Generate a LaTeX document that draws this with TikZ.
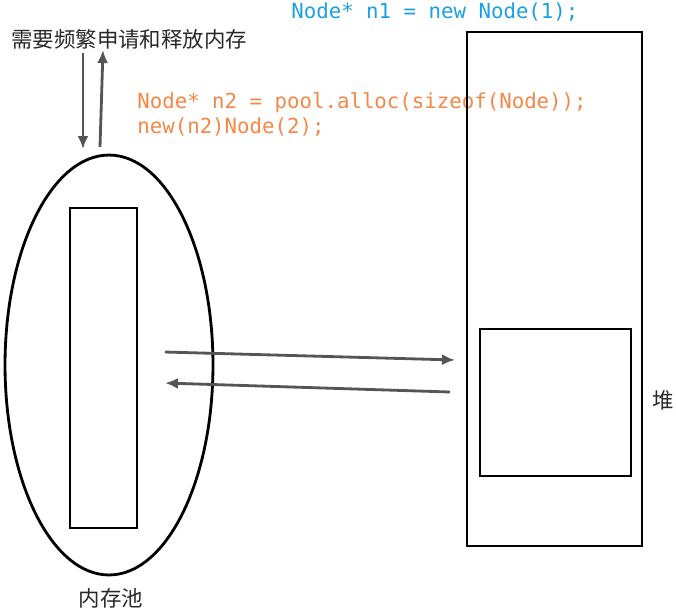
\documentclass[tikz,border=0pt]{standalone}
\usepackage{fontspec}
\setmonofont{DejaVu Sans Mono}
\newfontfamily\cjk{Noto Sans CJK SC}
\usetikzlibrary{shapes.geometric,arrows.meta}
\definecolor{codeblue}{RGB}{27,161,226}
\definecolor{codeorange}{RGB}{245,135,70}
\definecolor{arrowgray}{RGB}{85,85,85}
\definecolor{labelgray}{RGB}{40,40,40}
\tikzset{
  code/.style={anchor=west, inner sep=0, font=\fontsize{11.8}{14}\selectfont\ttfamily},
  label/.style={inner sep=0, text=labelgray, font=\fontsize{12.2}{14}\selectfont\cjk},
  box/.style={draw, line width=1.6pt, inner sep=0},
  flow/.style={-{Latex[length=2.6mm,width=2.2mm]}, line width=1.6pt, draw=arrowgray}
}
\begin{document}
\begin{tikzpicture}[x=0.02cm, y=-0.02cm]
\useasboundingbox (0,0) rectangle (676,610);

\node[code, text=codeblue] (newcode) at (291,12) {Node* n1 = new Node(1);};
\node[code, text=codeorange] (alloccode) at (137,103) {Node* n2 = pool.alloc(sizeof(Node));};
\node[code, text=codeorange] (placecode) at (137,127) {new(n2)Node(2);};
\node[label, anchor=west] (request) at (11,39) {需要频繁申请和释放内存};

\node[box, ellipse, minimum width=4.16cm, minimum height=8.4cm] (pool) at (109,365) {};
\node[box, rectangle, minimum width=1.34cm, minimum height=6.4cm] (block) at (103.5,368) {};
\node[label] (poollabel) at (111,598) {内存池};

\node[box, rectangle, minimum width=3.5cm, minimum height=10.28cm] (heap) at (554.5,289) {};
\node[box, rectangle, minimum width=3.02cm, minimum height=2.94cm] (chunk) at (555.5,402.5) {};
\node[label] (heaplabel) at (663,400) {堆};

\coordinate (downtop) at (83,53);
\coordinate (downend) at (83,149);
\coordinate (upstart) at (100,147);
\coordinate (upend) at (103,50);
\draw[flow] (downtop) -- (downend);
\draw[flow] (upstart) -- (upend);

\coordinate (getstart) at (165,352);
\coordinate (getend) at (455,360);
\coordinate (backstart) at (450,392);
\coordinate (backend) at (165,383);
\draw[flow] (getstart) -- (getend);
\draw[flow] (backstart) -- (backend);

\end{tikzpicture}
\end{document}
